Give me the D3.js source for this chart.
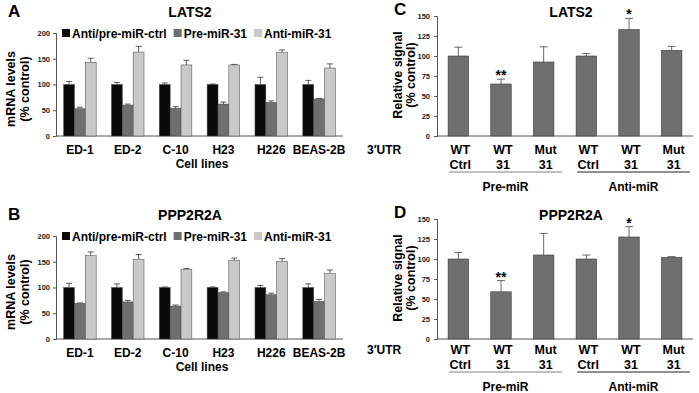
<!DOCTYPE html>
<html>
<head>
<meta charset="utf-8">
<script src="https://cdn.jsdelivr.net/npm/d3@7"></script>
<style>
  html, body { margin: 0; padding: 0; background: #fff; }
  svg { display: block; font-family: "Liberation Sans", Arial, Helvetica, sans-serif; font-weight: bold; }
</style>
</head>
<body>
<svg width="699" height="393"></svg>
<script>
// ---- data ----
const cellLines = ['ED-1', 'ED-2', 'C-10', 'H23', 'H226', 'BEAS-2B'];
const seriesNames = ['Anti/pre-miR-ctrl', 'Pre-miR-31', 'Anti-miR-31'];

const latsCtrl = [100, 100, 100, 100, 100, 100];
const latsCtrlErr = [6, 4, 3, 1, 14, 8];
const latsPre = [53, 60, 54, 62, 65, 72];
const latsPreErr = [3, 2, 3, 4, 3, 1];
const latsAnti = [143, 163, 138, 138, 162, 132];
const latsAntiErr = [8, 11, 9, 1, 5, 8];

const ppCtrl = [100, 100, 100, 100, 100, 100];
const ppCtrlErr = [8, 7, 1, 1, 4, 7];
const ppPre = [69, 72, 64, 90, 86, 73];
const ppPreErr = [1, 3, 2, 1.5, 3, 4];
const ppAnti = [162, 155, 135, 153, 151, 127];
const ppAntiErr = [7, 9, 2, 4, 5, 7];

const mrnaTicks = [0, 50, 100, 150, 200];

const utrTop = ['WT', 'WT', 'Mut', 'WT', 'WT', 'Mut'];
const utrBottom = ['Ctrl', '31', '31', 'Ctrl', '31', '31'];
const miRGroups = ['Pre-miR', 'Anti-miR'];

const latsSignal = [100, 65, 92.5, 100, 133, 107];
const latsSignalErr = [11, 6, 19, 3, 14, 5];
const ppSignal = [100, 59, 105, 100, 127.5, 102];
const ppSignalErr = [8, 14, 27, 5, 13, 1];
const signalStars = ['', '**', '', '', '*', ''];
const signalTicks = [0, 25, 50, 75, 100, 125, 150];

const seriesColors = ['#0a0a0a', '#6f6f6f', '#c9c9c9'];

const svg = d3.select('svg');

// ---- grouped mRNA panels (A, B) ----
function mrnaPanel(letter, title, values, errs, top) {
  const g = svg.append('g').attr('transform', `translate(0,${top})`);
  const x0 = d3.scaleBand().domain(cellLines).range([56, 343]).paddingInner(0.32).paddingOuter(0.16);
  const x1 = d3.scaleBand().domain(seriesNames).range([0, x0.bandwidth()]).padding(0);
  const y = d3.scaleLinear().domain([0, 200]).range([136, 33]);

  g.append('text').attr('x', 8).attr('y', 17).attr('font-size', 17).text(letter);
  g.append('text').attr('x', 190).attr('y', 17).attr('text-anchor', 'middle').attr('font-size', 14).text(title);

  const yAxis = g.append('g').attr('transform', 'translate(56,0)')
    .call(d3.axisLeft(y).tickValues(mrnaTicks).tickSize(3).tickPadding(3));
  yAxis.select('.domain').attr('stroke', '#555');
  yAxis.selectAll('.tick line').attr('stroke', '#555');
  yAxis.selectAll('.tick text').attr('font-size', 7.5).attr('font-family', 'inherit').attr('fill', '#222');

  const xAxis = g.append('g').attr('transform', 'translate(0,136)')
    .call(d3.axisBottom(x0).tickSize(0).tickPadding(9));
  xAxis.select('.domain').attr('stroke', '#555').attr('d', 'M56,0H343');
  xAxis.selectAll('.tick text').attr('font-size', 12).attr('font-family', 'inherit').attr('fill', '#000');

  const rows = cellLines.map((c, i) => ({
    cell: c,
    bars: seriesNames.map((s, k) => ({ s, k, v: values[k][i], e: errs[k][i] }))
  }));
  const grp = g.selectAll('g.grp').data(rows).enter().append('g')
    .attr('transform', d => `translate(${x0(d.cell)},0)`);
  // error whiskers (upper only)
  grp.selectAll('line.err').data(d => d.bars).enter().append('line')
    .attr('x1', d => x1(d.s) + x1.bandwidth() / 2).attr('x2', d => x1(d.s) + x1.bandwidth() / 2)
    .attr('y1', d => y(d.v)).attr('y2', d => y(d.v + d.e)).attr('stroke', '#333').attr('stroke-width', 0.8);
  grp.selectAll('line.cap').data(d => d.bars).enter().append('line')
    .attr('x1', d => x1(d.s) + x1.bandwidth() / 2 - 3).attr('x2', d => x1(d.s) + x1.bandwidth() / 2 + 3)
    .attr('y1', d => y(d.v + d.e)).attr('y2', d => y(d.v + d.e)).attr('stroke', '#333').attr('stroke-width', 0.8);
  grp.selectAll('rect').data(d => d.bars).enter().append('rect')
    .attr('x', d => x1(d.s)).attr('width', x1.bandwidth())
    .attr('y', d => y(d.v)).attr('height', d => y(0) - y(d.v))
    .attr('fill', d => seriesColors[d.k]).attr('stroke', '#444').attr('stroke-width', 0.5);

  g.append('text').attr('transform', 'translate(15,89) rotate(-90)').attr('text-anchor', 'middle')
    .attr('font-size', 12.5).text('mRNA levels');
  g.append('text').attr('transform', 'translate(29,89) rotate(-90)').attr('text-anchor', 'middle')
    .attr('font-size', 12.5).text('(% control)');
  g.append('text').attr('x', 202).attr('y', 168).attr('text-anchor', 'middle').attr('font-size', 12).text('Cell lines');

  // legend
  const leg = g.append('g').attr('transform', 'translate(62,29)');
  let lx = 0;
  seriesNames.forEach((s, k) => {
    leg.append('rect').attr('x', lx).attr('y', 0).attr('width', 8).attr('height', 8)
      .attr('fill', seriesColors[k]);
    const t = leg.append('text').attr('x', lx + 10).attr('y', 8.5).attr('font-size', 12).text(s);
    lx += 10 + t.node().getComputedTextLength() + 7;
  });
}

mrnaPanel('A', 'LATS2', [latsCtrl, latsPre, latsAnti], [latsCtrlErr, latsPreErr, latsAntiErr], 0);
mrnaPanel('B', 'PPP2R2A', [ppCtrl, ppPre, ppAnti], [ppCtrlErr, ppPreErr, ppAntiErr], 203);

// ---- reporter panels (C, D) ----
function signalPanel(letter, title, values, errs, top, labelShift) {
  const g = svg.append('g').attr('transform', `translate(0,${top})`);
  const idx = d3.range(values.length);
  const x = d3.scaleBand().domain(idx).range([437, 693]).paddingInner(0.52).paddingOuter(0.26);
  const y = d3.scaleLinear().domain([0, 150]).range([136, 16]);

  g.append('text').attr('x', 394).attr('y', 15).attr('font-size', 17).text(letter);
  g.append('text').attr('x', 571).attr('y', 17).attr('text-anchor', 'middle').attr('font-size', 14).text(title);

  const yAxis = g.append('g').attr('transform', 'translate(437,0)')
    .call(d3.axisLeft(y).tickValues(signalTicks).tickSize(3).tickPadding(4));
  yAxis.select('.domain').attr('stroke', '#555');
  yAxis.selectAll('.tick line').attr('stroke', '#555');
  yAxis.selectAll('.tick text').attr('font-size', 7.5).attr('font-family', 'inherit').attr('fill', '#222');

  g.append('line').attr('x1', 437).attr('x2', 693).attr('y1', y(0)).attr('y2', y(0)).attr('stroke', '#555');

  const cx = i => x(i) + x.bandwidth() / 2;
  g.selectAll('line.err').data(idx).enter().append('line')
    .attr('x1', cx).attr('x2', cx).attr('y1', i => y(values[i])).attr('y2', i => y(values[i] + errs[i]))
    .attr('stroke', '#444').attr('stroke-width', 0.8);
  g.selectAll('line.cap').data(idx).enter().append('line')
    .attr('x1', i => cx(i) - 4).attr('x2', i => cx(i) + 4)
    .attr('y1', i => y(values[i] + errs[i])).attr('y2', i => y(values[i] + errs[i]))
    .attr('stroke', '#444').attr('stroke-width', 0.8);
  g.selectAll('rect').data(idx).enter().append('rect')
    .attr('x', i => x(i)).attr('width', x.bandwidth())
    .attr('y', i => y(values[i])).attr('height', i => y(0) - y(values[i]))
    .attr('fill', '#6f6f6f').attr('stroke', '#3a3a3a').attr('stroke-width', 0.6);
  g.selectAll('text.star').data(idx.filter(i => signalStars[i])).enter().append('text')
    .attr('x', cx).attr('y', i => y(values[i] + errs[i]) + 1).attr('text-anchor', 'middle')
    .attr('font-size', 14).text(i => signalStars[i]);

  const ly = 154 - labelShift;
  g.append('text').attr('x', 367).attr('y', ly).attr('font-size', 12).text('3\u2032UTR');
  g.selectAll('text.top').data(idx).enter().append('text')
    .attr('x', i => cx(i) + 2).attr('y', ly).attr('text-anchor', 'middle').attr('font-size', 12.5).text(i => utrTop[i]);
  g.selectAll('text.bot').data(idx).enter().append('text')
    .attr('x', i => cx(i) + 2).attr('y', ly + 15).attr('text-anchor', 'middle').attr('font-size', 12.5).text(i => utrBottom[i]);

  miRGroups.forEach((name, k) => {
    const x1 = x(k * 3) + 1, x2 = x(k * 3 + 2) + x.bandwidth() + 8;
    g.append('line').attr('x1', x1).attr('x2', x2).attr('y1', ly + 18).attr('y2', ly + 18)
      .attr('stroke', k === 0 ? '#808080' : '#222').attr('stroke-width', 1);
    g.append('text').attr('x', (x1 + x2) / 2).attr('y', ly + 37).attr('text-anchor', 'middle')
      .attr('font-size', 12).text(name);
  });

  g.append('text').attr('transform', 'translate(402,75) rotate(-90)').attr('text-anchor', 'middle')
    .attr('font-size', 12.5).text('Relative signal');
  g.append('text').attr('transform', 'translate(415,75) rotate(-90)').attr('text-anchor', 'middle')
    .attr('font-size', 12.5).text('(% control)');
}

signalPanel('C', 'LATS2', latsSignal, latsSignalErr, 0, 0);
signalPanel('D', 'PPP2R2A', ppSignal, ppSignalErr, 203, 3);
</script>
</body>
</html>
